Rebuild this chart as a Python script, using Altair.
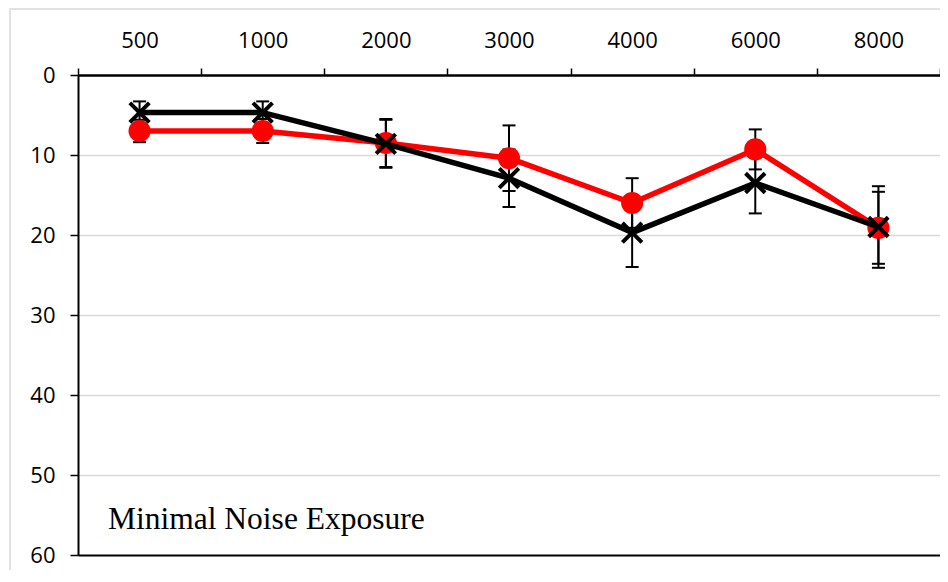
import altair as alt
import pandas as pd

freqs = ["500", "1000", "2000", "3000", "4000", "6000", "8000"]
red_mean = [7.0, 7.0, 8.5, 10.4, 16.0, 9.3, 19.1]
red_err = [1.4, 1.5, 3.0, 4.1, 3.1, 2.5, 4.5]
black_mean = [4.7, 4.7, 8.6, 12.9, 19.7, 13.5, 19.0]
black_err = [1.4, 1.4, 3.0, 3.6, 4.3, 3.8, 5.1]
y_ticks = [0, 10, 20, 30, 40, 50, 60]
label_text = "Minimal Noise Exposure"

rows = []
for s, means, errs in (("red", red_mean, red_err), ("black", black_mean, black_err)):
    for f, m, e in zip(freqs, means, errs):
        rows.append({"freq": f, "series": s, "mean": m, "lo": m - e, "hi": m + e})
df = pd.DataFrame(rows)

xenc = alt.X(
    "freq:N",
    sort=freqs,
    scale=alt.Scale(type="band", paddingInner=0, paddingOuter=0),
    axis=alt.Axis(
        orient="top", tickBand="extent", labelAngle=0, title=None, grid=False,
        domainColor="black", domainWidth=2, tickColor="black", tickWidth=1.5,
        tickSize=7, labelPadding=16, labelFontSize=22, labelFont="Open Sans",
        labelColor="black", labelFontWeight="normal",
    ),
)
yscale = alt.Scale(domain=[0, 60], reverse=True, nice=False, zero=False)
yaxis = alt.Axis(
    values=y_ticks, title=None, grid=True,
    gridColor={"condition": {"test": "datum.value == 60 || datum.value == 0", "value": "black"},
               "value": "#d9d9d9"},
    gridWidth={"condition": {"test": "datum.value == 60 || datum.value == 0", "value": 2},
               "value": 1.5},
    domainColor="black", domainWidth=2, tickColor="black", tickWidth=1.5,
    tickSize=8, labelPadding=15, labelFontSize=22, labelFont="Open Sans",
    labelColor="black",
)

base = alt.Chart(df)

border = alt.Chart(alt.Data(values=[{}])).mark_rect(
    fillOpacity=0, stroke="#d9d9d9", strokeWidth=1.5
).encode(x=alt.value(-68), x2=alt.value(1000), y=alt.value(-66), y2=alt.value(700))

err_rule = base.mark_rule(color="black", strokeWidth=2).encode(
    x=xenc, y=alt.Y("lo:Q", scale=yscale, axis=yaxis), y2="hi:Q"
)
cap_lo = base.mark_tick(color="black", thickness=2, size=13, opacity=1).encode(
    x=xenc, y=alt.Y("lo:Q", scale=yscale, axis=yaxis)
)
cap_hi = base.mark_tick(color="black", thickness=2, size=13, opacity=1).encode(
    x=xenc, y=alt.Y("hi:Q", scale=yscale, axis=yaxis)
)

def series_layers(name, color, point_mark):
    sub = base.transform_filter(alt.datum.series == name)
    line = sub.mark_line(color=color, strokeWidth=5.5, strokeJoin="round").encode(
        x=xenc, y=alt.Y("mean:Q", scale=yscale, axis=yaxis)
    )
    pts = point_mark(sub).encode(x=xenc, y=alt.Y("mean:Q", scale=yscale, axis=yaxis))
    return [line, pts]

red_layers = series_layers(
    "red", "red",
    lambda c: c.mark_point(shape="circle", filled=True, size=490, color="red", opacity=1),
)
black_layers = series_layers(
    "black", "black",
    lambda c: c.mark_point(shape="M-1,-1L1,1M-1,1L1,-1", filled=False, size=380,
                           strokeWidth=4, color="black", opacity=1),
)

text = alt.Chart(alt.Data(values=[{"t": label_text}])).mark_text(
    align="left", baseline="alphabetic", font="Liberation Serif", fontSize=31.5, color="black"
).encode(x=alt.value(30), y=alt.value(454), text="t:N")

chart = alt.layer(
    border, err_rule, cap_lo, cap_hi, *red_layers, *black_layers, text
).properties(
    width=862, height=480,
    padding={"left": 70, "top": 67, "right": 0, "bottom": 15},
    autosize=alt.AutoSizeParams(type="none"),
).configure_view(stroke="black", strokeWidth=2).configure(background="white")

chart.save("out.html", embed_options={"renderer": "svg", "actions": False})
